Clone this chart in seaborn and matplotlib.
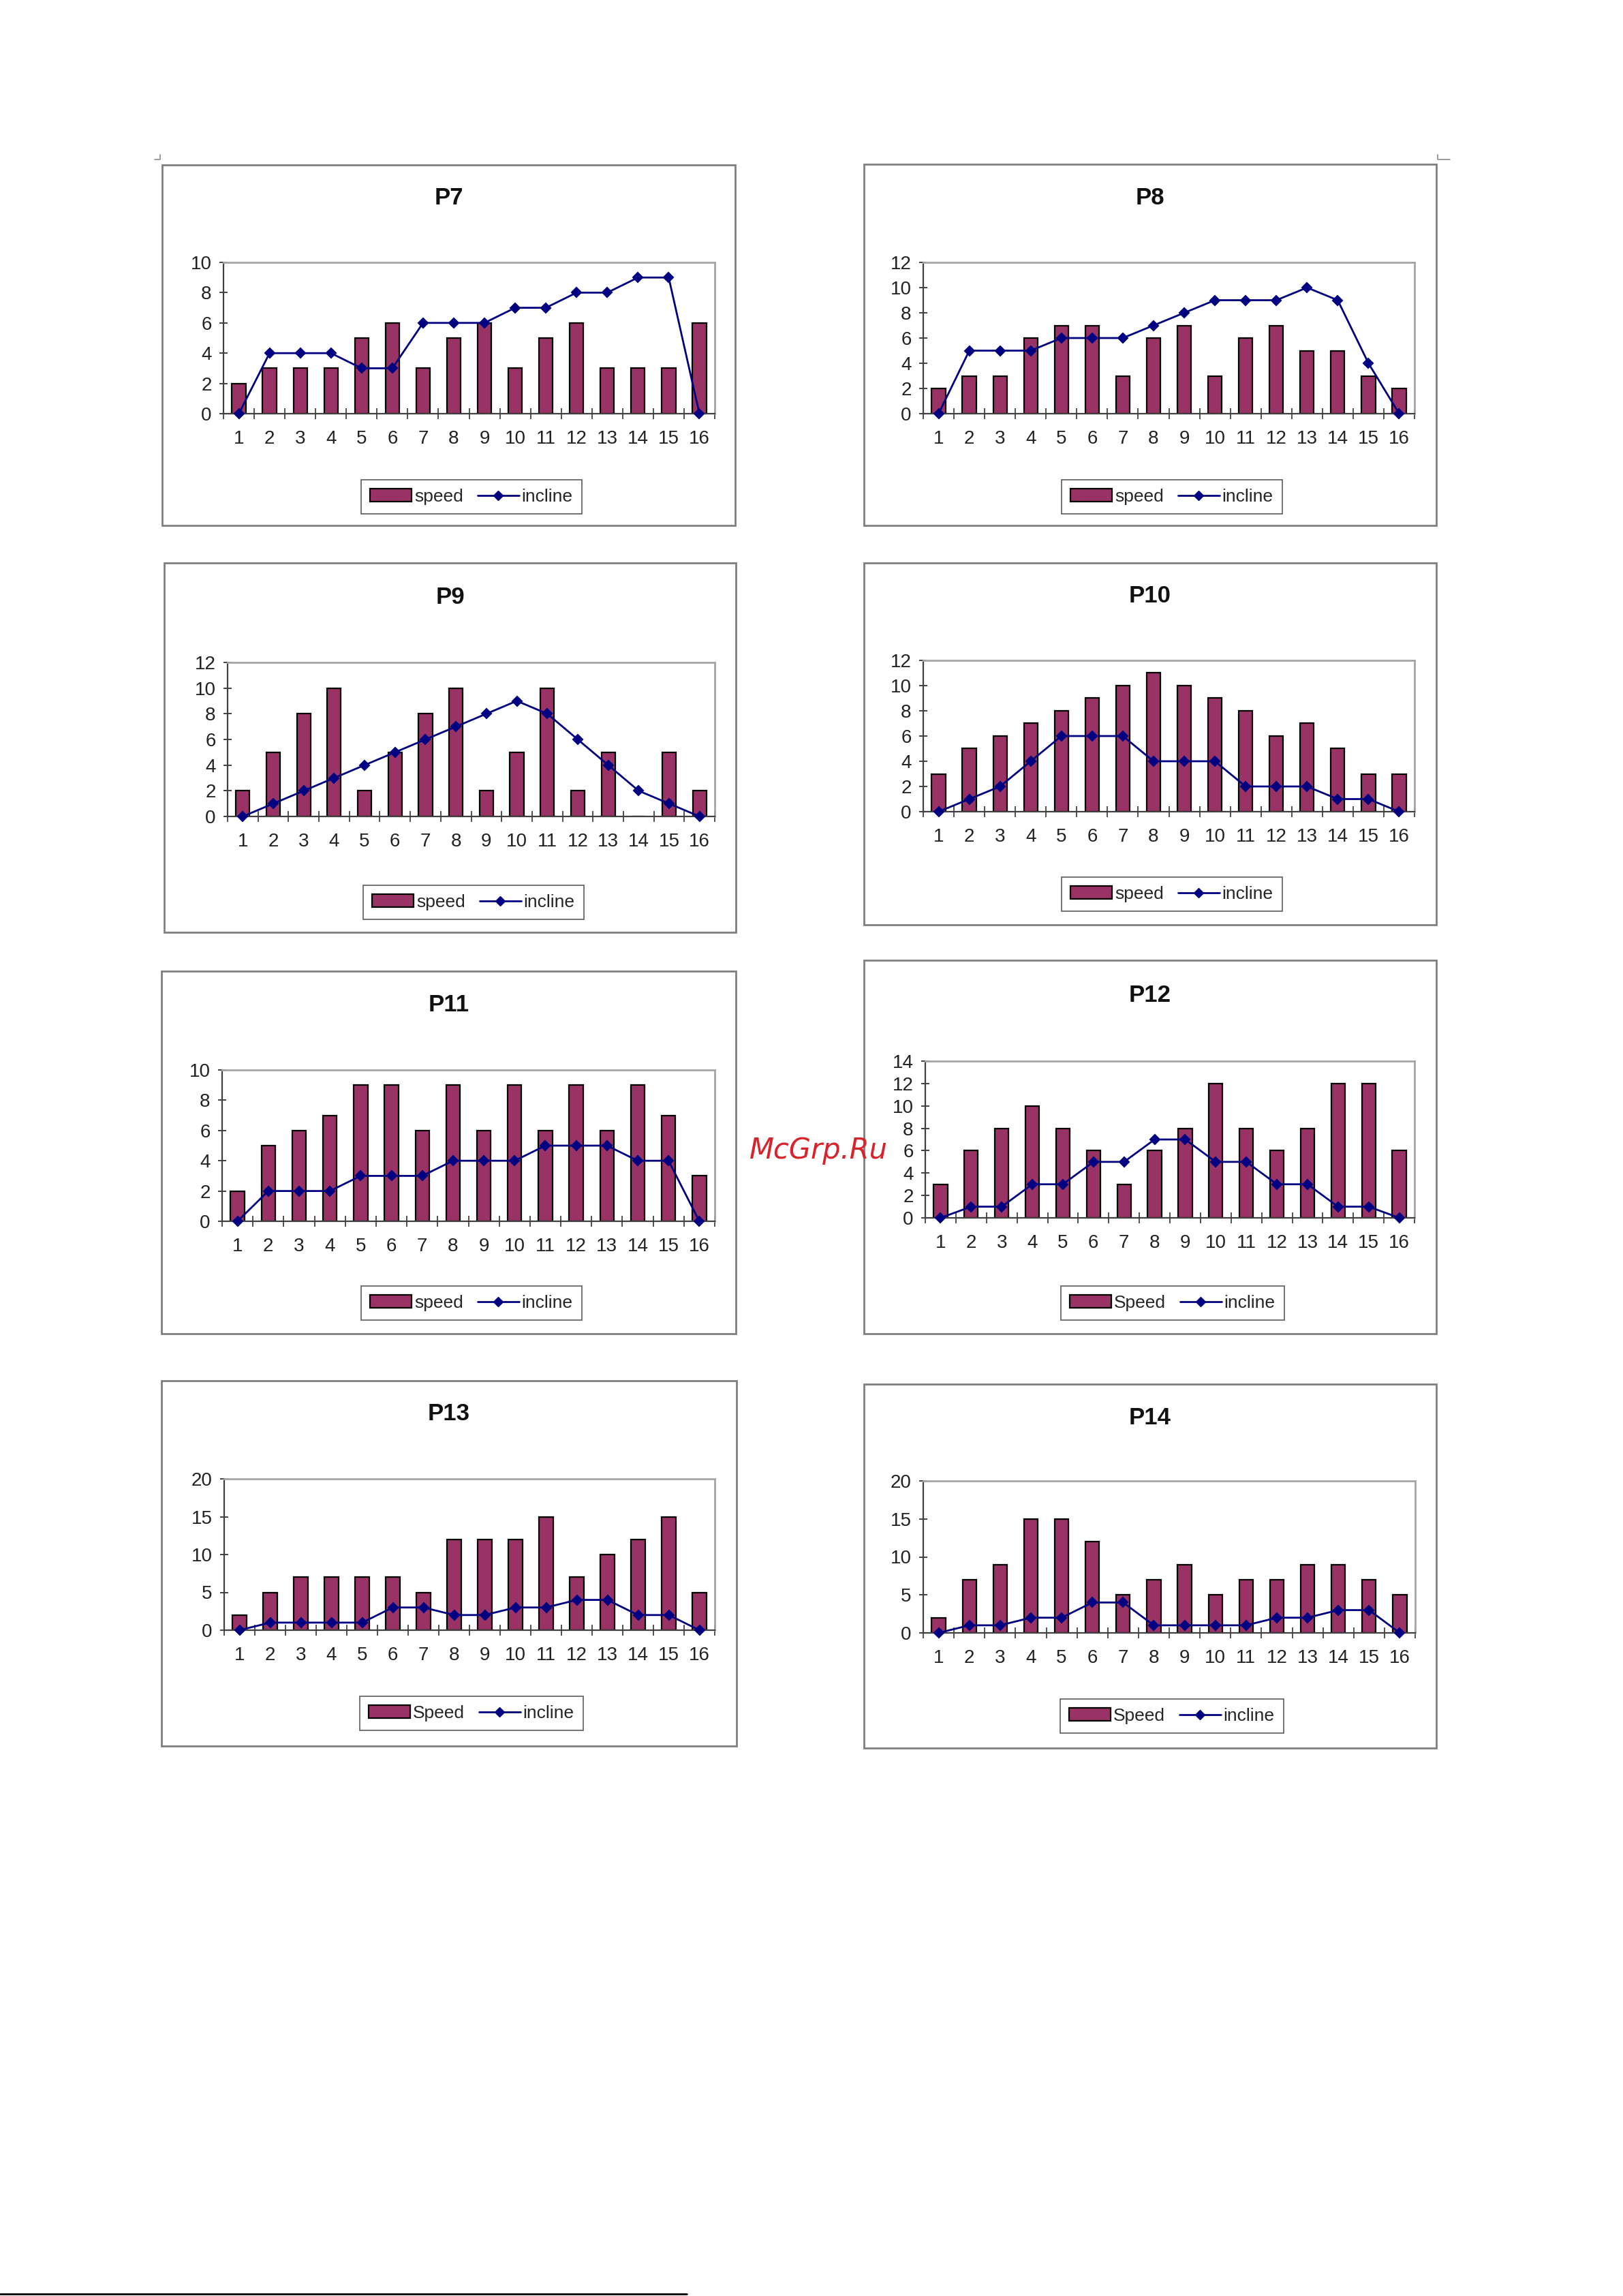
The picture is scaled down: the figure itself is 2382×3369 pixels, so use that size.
import matplotlib
matplotlib.use("Agg")
import matplotlib.pyplot as plt
from matplotlib.patches import Rectangle, Patch
from matplotlib.lines import Line2D
import pandas as pd
import seaborn as sns

# data: 16 stages per protocol
stages = [str(i) for i in range(1, 17)]

p7_speed = [2, 3, 3, 3, 5, 6, 3, 5, 6, 3, 5, 6, 3, 3, 3, 6]
p7_incline = [0, 4, 4, 4, 3, 3, 6, 6, 6, 7, 7, 8, 8, 9, 9, 0]

p8_speed = [2, 3, 3, 6, 7, 7, 3, 6, 7, 3, 6, 7, 5, 5, 3, 2]
p8_incline = [0, 5, 5, 5, 6, 6, 6, 7, 8, 9, 9, 9, 10, 9, 4, 0]

p9_speed = [2, 5, 8, 10, 2, 5, 8, 10, 2, 5, 10, 2, 5, 0, 5, 2]
p9_incline = [0, 1, 2, 3, 4, 5, 6, 7, 8, 9, 8, 6, 4, 2, 1, 0]

p10_speed = [3, 5, 6, 7, 8, 9, 10, 11, 10, 9, 8, 6, 7, 5, 3, 3]
p10_incline = [0, 1, 2, 4, 6, 6, 6, 4, 4, 4, 2, 2, 2, 1, 1, 0]

p11_speed = [2, 5, 6, 7, 9, 9, 6, 9, 6, 9, 6, 9, 6, 9, 7, 3]
p11_incline = [0, 2, 2, 2, 3, 3, 3, 4, 4, 4, 5, 5, 5, 4, 4, 0]

p12_speed = [3, 6, 8, 10, 8, 6, 3, 6, 8, 12, 8, 6, 8, 12, 12, 6]
p12_incline = [0, 1, 1, 3, 3, 5, 5, 7, 7, 5, 5, 3, 3, 1, 1, 0]

p13_speed = [2, 5, 7, 7, 7, 7, 5, 12, 12, 12, 15, 7, 10, 12, 15, 5]
p13_incline = [0, 1, 1, 1, 1, 3, 3, 2, 2, 3, 3, 4, 4, 2, 2, 0]

p14_speed = [2, 7, 9, 15, 15, 12, 5, 7, 9, 5, 7, 7, 9, 9, 7, 5]
p14_incline = [0, 1, 1, 2, 2, 4, 4, 1, 1, 1, 1, 2, 2, 3, 3, 0]

titles = ["P7", "P8", "P9", "P10", "P11", "P12", "P13", "P14"]
speed_labels = ["speed", "speed", "speed", "speed", "speed", "Speed", "Speed", "Speed"]
y_max = [10, 12, 12, 12, 10, 14, 20, 20]
y_step = [2, 2, 2, 2, 2, 2, 5, 5]

speeds = [p7_speed, p8_speed, p9_speed, p10_speed, p11_speed, p12_speed, p13_speed, p14_speed]
inclines = [p7_incline, p8_incline, p9_incline, p10_incline,
            p11_incline, p12_incline, p13_incline, p14_incline]

# page layout in pixels from the top left: frame, plot area, title y, legend centre
W, H = 2382, 3369
layout = [
    ((238, 242, 1079, 771), (328, 385, 1049, 607), 290, (692, 729)),
    ((1268, 241, 2108, 771), (1355, 385, 2076, 607), 290, (1720, 729)),
    ((241, 826, 1080, 1368), (334, 972, 1049, 1198), 877, (695, 1324)),
    ((1268, 826, 2108, 1357), (1355, 969, 2076, 1191), 874, (1720, 1312)),
    ((237, 1425, 1080, 1957), (326, 1570, 1049, 1792), 1475, (692, 1912)),
    ((1268, 1409, 2108, 1957), (1358, 1557, 2076, 1787), 1460, (1721, 1912)),
    ((237, 2026, 1081, 2562), (329, 2170, 1049, 2392), 2075, (692, 2514)),
    ((1268, 2031, 2108, 2565), (1355, 2173, 2077, 2396), 2080, (1720, 2518)),
]

BAR = "#993366"
LINE = "#000080"

sns.set_theme(style="white")
plt.rcParams['font.family'] = ['Liberation Sans', 'DejaVu Sans']

fig = plt.figure(figsize=(W / 100, H / 100), dpi=100)
fig.patch.set_facecolor("white")


def fx(x):
    return x / W


def fy(y):
    return 1 - y / H


for i, name in enumerate(titles):
    frame, area, title_y, leg_c = layout[i]

    # outer chart frame
    fig.add_artist(Rectangle((fx(frame[0]), fy(frame[3])),
                             fx(frame[2]) - fx(frame[0]), fy(frame[1]) - fy(frame[3]),
                             transform=fig.transFigure, fill=False,
                             edgecolor="#7f7f7f", linewidth=2))

    ax = fig.add_axes([fx(area[0]), fy(area[3]),
                       fx(area[2]) - fx(area[0]), fy(area[1]) - fy(area[3])])

    df = pd.DataFrame({"stage": stages, "speed": speeds[i], "incline": inclines[i]})

    sns.barplot(data=df, x="stage", y="speed", color=BAR, saturation=1,
                edgecolor="black", linewidth=1.6, width=0.45, ax=ax)
    sns.pointplot(data=df, x="stage", y="incline", color=LINE, markers="D",
                  markersize=7.5, linewidth=2, errorbar=None, clip_on=False,
                  zorder=5, ax=ax)

    ax.set_xlim(-0.5, 15.5)
    ax.set_ylim(0, y_max[i])
    ax.set_yticks(list(range(0, y_max[i] + 1, y_step[i])))
    ax.set_xticks([k + 0.5 for k in range(-1, 16)], minor=True)
    ax.set_xlabel("")
    ax.set_ylabel("")

    ax.tick_params(axis="y", direction="inout", length=9, width=1.2,
                   labelsize=20, pad=8, left=True, colors="#222222")
    ax.tick_params(axis="x", which="major", length=0, labelsize=20, pad=17,
                   colors="#222222")
    ax.tick_params(axis="x", which="minor", direction="inout", length=11,
                   width=1.2, bottom=True, color="#333333")

    for side in ["top", "right"]:
        ax.spines[side].set_color("#a6a6a6")
        ax.spines[side].set_linewidth(2)
    for side in ["left", "bottom"]:
        ax.spines[side].set_color("#404040")
        ax.spines[side].set_linewidth(1.6)

    fig.text(fx((frame[0] + frame[2]) / 2), fy(title_y), name, ha="center",
             va="center", fontsize=25, fontweight="bold", color="#111111")

    handles = [Patch(facecolor=BAR, edgecolor="black", linewidth=1.6),
               Line2D([], [], color=LINE, marker="D", markersize=7.5, linewidth=2)]
    leg = fig.legend(handles, [speed_labels[i], "incline"], loc="center",
                     bbox_to_anchor=(fx(leg_c[0]), fy(leg_c[1])), ncol=2,
                     frameon=True, fancybox=False, fontsize=19,
                     handlelength=2.3, handleheight=0.75, handletextpad=0.15,
                     columnspacing=0.8, borderpad=0.5)
    leg.get_frame().set_edgecolor("#333333")
    leg.get_frame().set_linewidth(1.2)

# little crop marks at the top corners
fig.add_artist(Line2D([fx(227), fx(235), fx(235)], [fy(234), fy(234), fy(227)],
                      transform=fig.transFigure, color="#8c8c8c", linewidth=1.2))
fig.add_artist(Line2D([fx(2110), fx(2110), fx(2128)], [fy(227), fy(234), fy(234)],
                      transform=fig.transFigure, color="#8c8c8c", linewidth=1.2))

# footnote rule at the bottom of the page
fig.add_artist(Line2D([0, fx(1008)], [fy(3366), fy(3366)],
                      transform=fig.transFigure, color="black", linewidth=2))

fig.text(fx(1100), fy(1688), "McGrp.Ru", color="#d9232a", fontsize=30,
         style="italic", family="DejaVu Sans", ha="left", va="center")

fig.savefig("out.png", dpi=100, facecolor="white")
